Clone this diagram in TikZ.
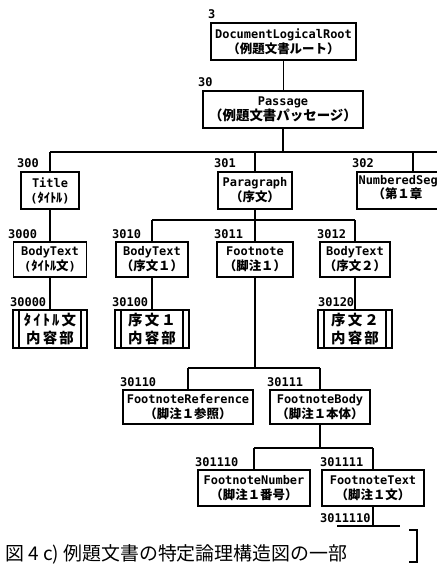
\documentclass[tikz,border=0pt]{standalone}
\usepackage{fontspec}
\newfontfamily\monof{DejaVu Sans Mono}
\newfontfamily\jpf{Noto Sans CJK JP}
\newcommand\jp{\jpf\bfseries\fontsize{12.5}{15}\selectfont}
\tikzset{
  box/.style={draw, line width=1.1bp, inner sep=0pt, align=center,
    font=\monof\bfseries\fontsize{12}{15}\selectfont},
  cbox/.style={draw, line width=1.1bp, inner sep=0pt, align=center,
    font=\jpf\bfseries\fontsize{14.5}{17.5}\selectfont\addfontfeature{LetterSpace=15},
    minimum width=74bp, minimum height=38bp,
    path picture={
      \draw[line width=1.1bp] ([xshift=6bp]path picture bounding box.north west) -- ([xshift=6bp]path picture bounding box.south west);
      \draw[line width=1.1bp] ([xshift=-6bp]path picture bounding box.north east) -- ([xshift=-6bp]path picture bounding box.south east);
    }},
  idl/.style={font=\monof\bfseries\fontsize{12}{12}\selectfont, inner sep=0pt, anchor=base west},
  link/.style={line width=1.1bp},
}
\begin{document}
\begin{tikzpicture}[x=1bp,y=-1bp]
\useasboundingbox (0,0) rectangle (437,568);
\clip (0,0) rectangle (437,568);

% boxes
\node[box, minimum width=145bp, minimum height=37bp] (root) at (283.5,41.5)
  {DocumentLogicalRoot\\{\jp （例題文書ルート）}};
\node[box, minimum width=160bp, minimum height=37bp] (passage) at (283,109.5)
  {Passage\\{\jp\fontsize{13.5}{15}\selectfont （例題文書パッセージ）}};

\node[box, minimum width=58bp, minimum height=37bp] (title) at (50,190.5)
  {Title\\({\jp ﾀｲﾄﾙ})};
\node[box, minimum width=74bp, minimum height=37bp] (para) at (255,190.5)
  {Paragraph\\{\jp （序文）}};
% partly visible box at the right edge
\draw[link] (437,172) -- (357,172) -- (357,209) -- (437,209);
\node[box, draw=none, align=left, anchor=north west] (numseg) at (358,175)
  {NumberedSeg\\[-1pt]\hspace*{14bp}{\jp （第１章}};

\node[box, minimum width=73bp, minimum height=35bp] (bt0) at (50,259.5)
  {BodyText\\({\jp ﾀｲﾄﾙ文})};
\node[box, minimum width=72bp, minimum height=35bp] (bt1) at (152,259.5)
  {BodyText\\{\jp （序文１）}};
\node[box, minimum width=76bp, minimum height=35bp] (fn) at (255,259.5)
  {Footnote\\{\jp （脚注１）}};
\node[box, minimum width=70bp, minimum height=35bp] (bt2) at (355,259.5)
  {BodyText\\{\jp （序文２）}};

\node[cbox] (c0) at (50,329) {ﾀｲﾄﾙ文\\内容部};
\node[cbox] (c1) at (152,329) {序文１\\内容部};
\node[cbox] (c2) at (355,329) {序文２\\内容部};

\node[box, minimum width=130bp, minimum height=34bp] (fref) at (188,407)
  {FootnoteReference\\{\jp （脚注１参照）}};
\node[box, minimum width=100bp, minimum height=34bp] (fbody) at (320,407)
  {FootnoteBody\\{\jp （脚注１本体）}};

\node[box, minimum width=112bp, minimum height=36bp] (fnum) at (254,488)
  {FootnoteNumber\\{\jp （脚注１番号）}};
\node[box, minimum width=102bp, minimum height=36bp] (ftext) at (373,488)
  {FootnoteText\\{\jp （脚注１文）}};

% labels
\node[idl] (l3) at (208,19) {3};
\node[idl] (l30) at (198,87) {30};
\node[idl] (l300) at (17,168) {300};
\node[idl] (l301) at (214,168) {301};
\node[idl] (l302) at (352,168) {302};
\node[idl] (l3000) at (8,238) {3000};
\node[idl] (l3010) at (112,238) {3010};
\node[idl] (l3011) at (214,238) {3011};
\node[idl] (l3012) at (317,238) {3012};
\node[idl] (l30000) at (10,306) {30000};
\node[idl] (l30100) at (112,306) {30100};
\node[idl] (l30120) at (318,306) {30120};
\node[idl] (l30110) at (120,386) {30110};
\node[idl] (l30111) at (267,386) {30111};
\node[idl] (l301110) at (195,466) {301110};
\node[idl] (l301111) at (320,466) {301111};
\node[idl] (l3011110) at (320,522) {3011110};

% bus coordinates
\coordinate (b1L) at (50,152);   \coordinate (b1R) at (437,152);
\coordinate (b2L) at (152,220);  \coordinate (b2R) at (355,220);
\coordinate (b3L) at (188,368);  \coordinate (b3R) at (320,368);
\coordinate (b4L) at (254,448);  \coordinate (b4R) at (373,448);
\coordinate (b5L) at (337,526);  \coordinate (b5R) at (400,526);
\coordinate (nsT) at (413,172);

% connectors
\draw[link] (root.south) -- (root.south |- passage.north);
\draw[link] (passage.south) -- (passage.south |- b1L);
\draw[link] (b1L) -- (b1R);
\draw[link] (title.north |- b1L) -- (title.north);
\draw[link] (para.north |- b1L) -- (para.north);
\draw[link] (nsT |- b1L) -- (nsT);

\draw[link] (title.south) -- (title.south |- bt0.north);
\draw[link] (para.south) -- (para.south |- b2L);
\draw[link] (b2L) -- (b2R);
\draw[link] (bt1.north |- b2L) -- (bt1.north);
\draw[link] (fn.north |- b2L) -- (fn.north);
\draw[link] (bt2.north |- b2L) -- (bt2.north);

\draw[link] (bt0.south) -- (c0.north);
\draw[link] (bt1.south) -- (c1.north);
\draw[link] (bt2.south) -- (c2.north);

\draw[link] (fn.south) -- (fn.south |- b3L);
\draw[link] (b3L) -- (b3R);
\draw[link] (fref.north |- b3L) -- (fref.north);
\draw[link] (fbody.north |- b3L) -- (fbody.north);

\draw[link] (fbody.south) -- (fbody.south |- b4L);
\draw[link] (b4L) -- (b4R);
\draw[link] (fnum.north |- b4L) -- (fnum.north);
\draw[link] (ftext.north |- b4L) -- (ftext.north);

\draw[link] (ftext.south) -- (ftext.south |- b5L);
\draw[link] (b5L) -- (b5R);

% bracket
\coordinate (brT) at (409,530);
\coordinate (brB) at (409,562);
\draw[link] (brT) -- ++(8,0) |- (brB);

% caption
\node[font=\jpf\fontsize{19}{19}\selectfont, inner sep=0pt, anchor=base west] (cap) at (5,560)
  {図 4 c) 例題文書の特定論理構造図の一部};
\end{tikzpicture}
\end{document}
